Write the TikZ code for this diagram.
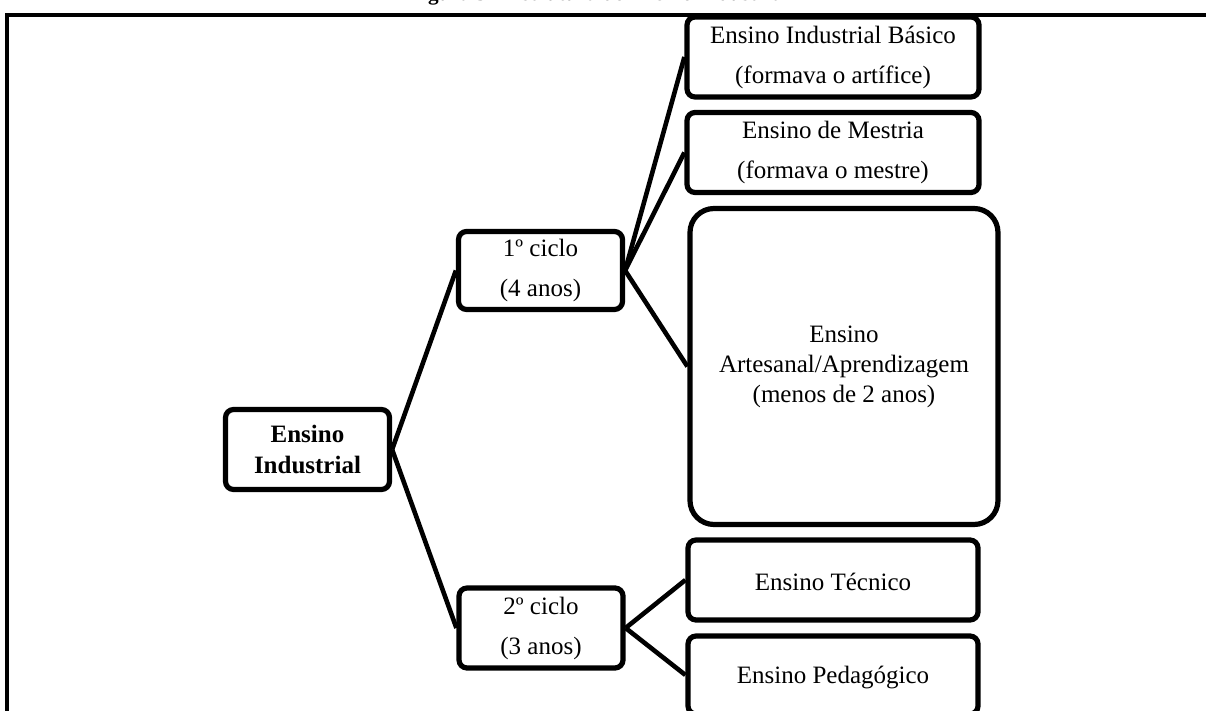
\documentclass[tikz,border=0pt]{standalone}
\usepackage{fontspec}
\setmainfont{Liberation Serif}
\begin{document}
\begin{tikzpicture}[x=0.5pt,y=-0.5pt,
  box/.style={draw,line width=2.6pt,rounded corners=4pt,align=center,inner sep=0pt,
    font=\fontsize{12.5}{20}\selectfont},
  link/.style={line width=2.3pt},
  frame/.style={line width=1.6pt}]
\useasboundingbox (0,0) rectangle (1206,711);
\clip (0,0) rectangle (1206,711);
% clipped title
\node[anchor=base,inner sep=0pt,font=\bfseries\fontsize{10.6}{12}\selectfont] (title) at (599,1) {Figura 3 -- Estrutura do Ensino Industrial};
% frame
\coordinate (fbl) at (7,711);
\coordinate (ftl) at (7,15);
\coordinate (ftr) at (1206,15);
\draw[frame] (fbl) -- (ftl) -- (ftr);
% nodes
\node[box,minimum width=82pt,minimum height=40pt,font=\bfseries\fontsize{12.5}{15.5}\selectfont] (ei) at (307.5,449.5) {Ensino\\Industrial};
\node[box,minimum width=82pt,minimum height=39pt] (c1) at (540.5,270.5) {1º ciclo\\(4 anos)};
\node[box,minimum width=82pt,minimum height=40pt] (c2) at (541,628) {2º ciclo\\(3 anos)};
\node[box,minimum width=146pt,minimum height=40pt] (basico) at (833,57) {Ensino Industrial Básico\\(formava o artífice)};
\node[box,minimum width=146pt,minimum height=40pt] (mestria) at (833,152.5) {Ensino de Mestria\\(formava o mestre)};
\node[box,minimum width=154pt,minimum height=158pt,rounded corners=12pt,font=\fontsize{12.5}{15}\selectfont] (artesanal) at (844,366.5) {Ensino\\Artesanal/Aprendizagem\\(menos de 2 anos)};
\node[box,minimum width=145pt,minimum height=40pt,text height=11pt] (tecnico) at (833,580) {Ensino Técnico};
\node[box,minimum width=145pt,minimum height=39pt,text height=11pt] (pedagogico) at (833,675) {Ensino Pedagógico};
% connectors
\draw[link] (ei.east) -- (c1.west);
\draw[link] (ei.east) -- (c2.west);
\draw[link] (c1.east) -- (basico.west);
\draw[link] (c1.east) -- (mestria.west);
\draw[link] (c1.east) -- (artesanal.west);
\draw[link] (c2.east) -- (tecnico.west);
\draw[link] (c2.east) -- (pedagogico.west);
\end{tikzpicture}
\end{document}
